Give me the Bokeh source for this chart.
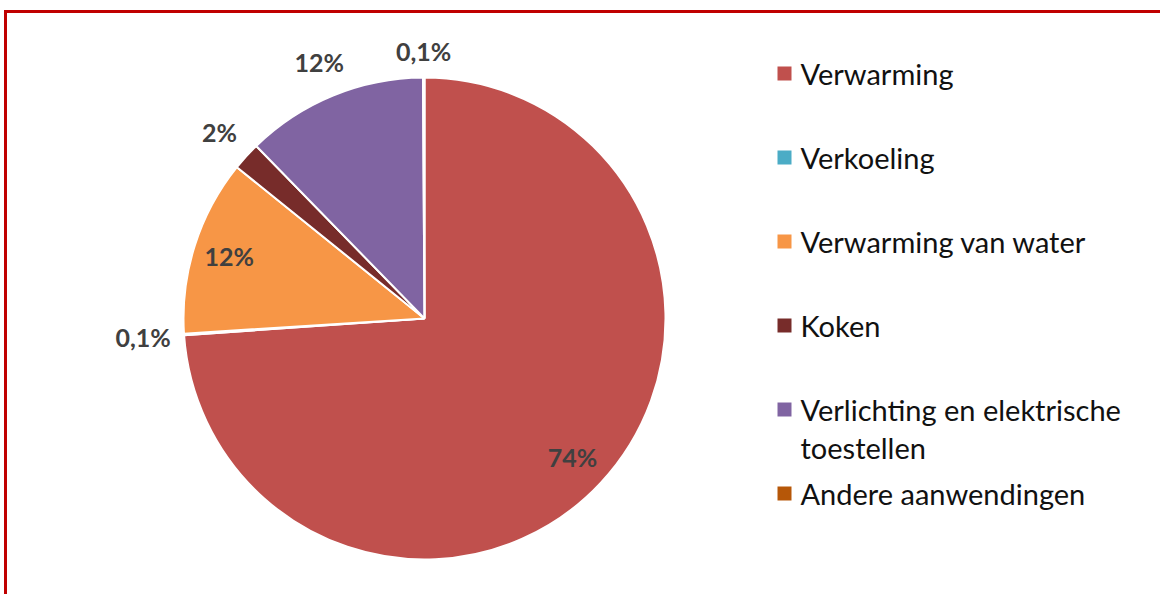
import math
from bokeh.plotting import figure
from bokeh.models import Range1d, ColumnDataSource
from bokeh.core.properties import value
from bokeh.embed import file_html
from bokeh.resources import INLINE

# ---- data ----
categories = ["Verwarming", "Verkoeling", "Verwarming van water", "Koken",
              "Verlichting en elektrische toestellen", "Andere aanwendingen"]
shares = [73.9, 0.1, 11.8, 1.9, 12.2, 0.1]
share_labels = ["74%", "0,1%", "12%", "2%", "12%", "0,1%"]
legend_labels = ["Verwarming", "Verkoeling", "Verwarming van water", "Koken",
                 "Verlichting en elektrische\ntoestellen", "Andere aanwendingen"]
colors = ["#C0504D", "#4BACC6", "#F79646", "#772C2A", "#8064A2", "#B65708"]

# ---- layout (pixel-like units) ----
W, H = 1160, 594
cx, cy, R = 424, 276, 241
label_r = [0.84, 1.17, 0.85, 1.15, 1.15, 1.11]
FONT = "Lato"

p = figure(width=W, height=H, output_backend="svg", toolbar_location=None,
           x_range=Range1d(0, W), y_range=Range1d(0, H),
           x_axis_type=None, y_axis_type=None, min_border=0)
p.grid.visible = False
p.outline_line_color = None
p.background_fill_color = "white"
p.border_fill_color = "white"

total = sum(shares)
starts, ends, mids = [], [], []
cum = 0.0
for s in shares:
    a0 = math.pi / 2 - 2 * math.pi * cum / total
    cum += s
    a1 = math.pi / 2 - 2 * math.pi * cum / total
    starts.append(a0)
    ends.append(a1)
    mids.append((a0 + a1) / 2)

src = ColumnDataSource(dict(x=[cx] * len(shares), y=[cy] * len(shares),
                            start=starts, end=ends, color=colors, cat=categories))
p.wedge(x="x", y="y", radius=R, start_angle="start", end_angle="end",
        direction="clock", fill_color="color", line_color="white", line_width=2,
        source=src)

lx = [cx + R * f * math.cos(m) for f, m in zip(label_r, mids)]
ly = [cy + R * f * math.sin(m) for f, m in zip(label_r, mids)]
p.text(x=lx, y=ly, text=share_labels, text_align="center", text_baseline="middle",
       text_font=value(FONT), text_font_style="bold", text_font_size="25px",
       text_color="#404040")

# ---- custom legend ----
row0, step = 521, 84
sq_x, tx = 784, 800
for i, (lab, col) in enumerate(zip(legend_labels, colors)):
    yrow = row0 - i * step
    p.rect(x=[sq_x], y=[yrow], width=14, height=14, fill_color=col, line_color=None)
    for j, line in enumerate(lab.split("\n")):
        p.text(x=[tx], y=[yrow - j * 38], text=[line], text_align="left",
               text_baseline="middle", text_font=value(FONT),
               text_font_size="29px", text_color="#111111")

# ---- red frame (top and left edges visible) ----
p.line(x=[5, 5, W + 5], y=[-5, 583, 583], line_color="#C00000", line_width=3,
       line_join="miter")

open("out.html", "w").write(file_html(p, INLINE))
